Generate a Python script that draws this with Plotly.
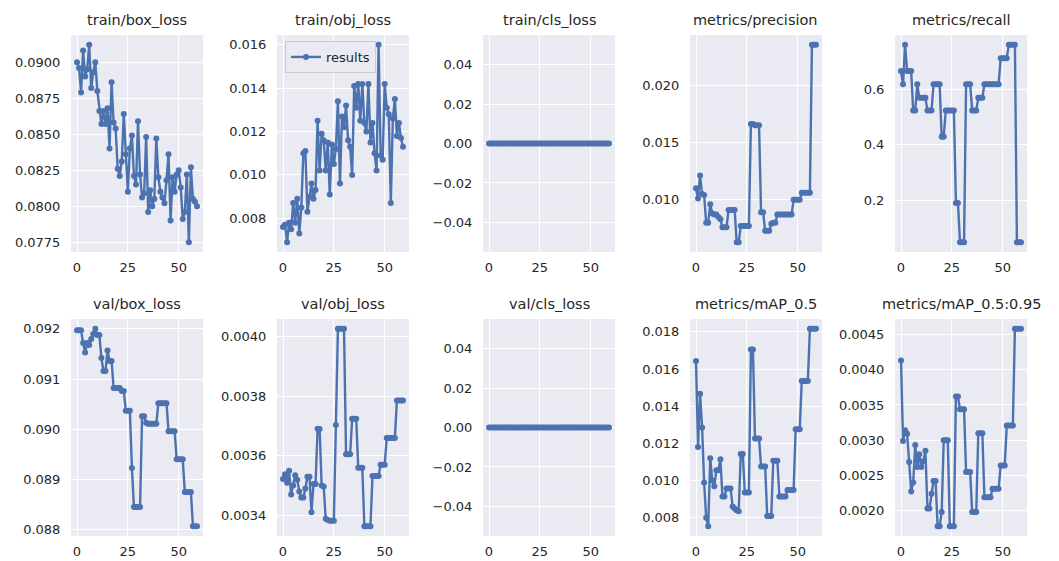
import plotly.graph_objects as go

# ---------------- data ----------------
epochs = list(range(60))

train_box_loss = [
    0.0900, 0.0896, 0.0879, 0.0908, 0.0890, 0.0895, 0.0912, 0.0882, 0.0893, 0.0900,
    0.0880, 0.0866, 0.0857, 0.0866, 0.0857, 0.0868, 0.0840, 0.0886, 0.0858, 0.0854,
    0.0826, 0.0821, 0.0831, 0.0864, 0.0836, 0.0810, 0.0840, 0.0849, 0.0821, 0.0815,
    0.0859, 0.0822, 0.0806, 0.0809, 0.0848, 0.0796, 0.0811, 0.0800, 0.0805, 0.0847,
    0.0820, 0.0810, 0.0806, 0.0802, 0.0818, 0.0836, 0.0790, 0.0820, 0.0810, 0.0822,
    0.0825, 0.0813, 0.0791, 0.0796, 0.0822, 0.0775, 0.0827, 0.0805, 0.0803, 0.0800]

train_obj_loss = [
    0.0076, 0.0077, 0.0069, 0.0078, 0.0075, 0.0087, 0.0078, 0.0089, 0.0073, 0.0085,
    0.0110, 0.0111, 0.0083, 0.0090, 0.0096, 0.0089, 0.0093, 0.0125, 0.0102, 0.0119,
    0.0116, 0.0102, 0.0115, 0.0091, 0.0114, 0.0105, 0.0112, 0.0134, 0.0096, 0.0127,
    0.0122, 0.0132, 0.0116, 0.0113, 0.0100, 0.0141, 0.0131, 0.0142, 0.0125, 0.0142,
    0.0124, 0.0120, 0.0142, 0.0115, 0.0124, 0.0110, 0.0102, 0.0160, 0.0109, 0.0107,
    0.0142, 0.0131, 0.0128, 0.0087, 0.0126, 0.0135, 0.0118, 0.0124, 0.0117, 0.0113]

train_cls_loss = [0.0] * 60

metrics_precision = [
    0.0110, 0.0101, 0.0121, 0.0105, 0.0104, 0.0080, 0.0080, 0.0096, 0.0088, 0.0087,
    0.0087, 0.0085, 0.0083, 0.0076, 0.0076, 0.0076, 0.0091, 0.0091, 0.0091, 0.0091,
    0.0063, 0.0063, 0.0077, 0.0077, 0.0077, 0.0077, 0.0077, 0.0166, 0.0166, 0.0165,
    0.0165, 0.0165, 0.0089, 0.0089, 0.0073, 0.0073, 0.0073, 0.0079, 0.0080, 0.0080,
    0.0087, 0.0087, 0.0087, 0.0087, 0.0087, 0.0087, 0.0087, 0.0087, 0.0100, 0.0100,
    0.0100, 0.0100, 0.0106, 0.0106, 0.0106, 0.0106, 0.0106, 0.0235, 0.0235, 0.0235]

metrics_recall = [
    0.667, 0.619, 0.762, 0.667, 0.667, 0.667, 0.524, 0.524, 0.619, 0.571,
    0.571, 0.571, 0.571, 0.524, 0.524, 0.524, 0.619, 0.619, 0.619, 0.619,
    0.429, 0.429, 0.524, 0.524, 0.524, 0.524, 0.524, 0.190, 0.190, 0.048,
    0.048, 0.048, 0.619, 0.619, 0.619, 0.524, 0.524, 0.524, 0.571, 0.571,
    0.571, 0.619, 0.619, 0.619, 0.619, 0.619, 0.619, 0.619, 0.619, 0.714,
    0.714, 0.714, 0.714, 0.762, 0.762, 0.762, 0.762, 0.048, 0.048, 0.048]

val_box_loss = [
    0.09197, 0.09197, 0.09197, 0.09172, 0.09153, 0.09172, 0.09168, 0.09180, 0.09190, 0.09200,
    0.09188, 0.09188, 0.09142, 0.09116, 0.09116, 0.09157, 0.09136, 0.09136, 0.09082, 0.09082,
    0.09082, 0.09082, 0.09076, 0.09076, 0.09037, 0.09037, 0.09037, 0.08923, 0.08845, 0.08845,
    0.08845, 0.08845, 0.09026, 0.09026, 0.09013, 0.09011, 0.09011, 0.09011, 0.09011, 0.09011,
    0.09052, 0.09052, 0.09052, 0.09052, 0.09052, 0.08996, 0.08996, 0.08996, 0.08996, 0.08940,
    0.08940, 0.08940, 0.08940, 0.08875, 0.08875, 0.08875, 0.08875, 0.08807, 0.08807, 0.08807]

val_obj_loss = [
    0.003522, 0.003538, 0.003510, 0.003550, 0.003470, 0.003500, 0.003535, 0.003520, 0.003480, 0.003460,
    0.003460, 0.003490, 0.003530, 0.003530, 0.003411, 0.003505, 0.003505, 0.003691, 0.003690, 0.003500,
    0.003497, 0.003389, 0.003385, 0.003382, 0.003382, 0.003382, 0.003703, 0.004026, 0.004026, 0.004026,
    0.004026, 0.003605, 0.003605, 0.003605, 0.003724, 0.003724, 0.003724, 0.003560, 0.003560, 0.003560,
    0.003364, 0.003364, 0.003364, 0.003364, 0.003532, 0.003532, 0.003532, 0.003532, 0.003570, 0.003570,
    0.003570, 0.003660, 0.003660, 0.003660, 0.003660, 0.003660, 0.003786, 0.003786, 0.003786, 0.003786]

val_cls_loss = [0.0] * 60

metrics_map50 = [
    0.01643, 0.01181, 0.01467, 0.01285, 0.00990, 0.00800, 0.00755, 0.01120, 0.01000, 0.00970,
    0.01055, 0.01055, 0.01115, 0.00915, 0.00915, 0.00958, 0.00958, 0.00958, 0.00861, 0.00850,
    0.00840, 0.00835, 0.01143, 0.01143, 0.00936, 0.00936, 0.00936, 0.01705, 0.01705, 0.01226,
    0.01226, 0.01226, 0.01076, 0.01076, 0.01076, 0.00810, 0.00810, 0.00810, 0.01107, 0.01107,
    0.01107, 0.00915, 0.00915, 0.00915, 0.00915, 0.00950, 0.00950, 0.00950, 0.00950, 0.01276,
    0.01276, 0.01276, 0.01536, 0.01536, 0.01536, 0.01536, 0.01816, 0.01816, 0.01816, 0.01816]

metrics_map50_95 = [
    0.00413, 0.00299, 0.00314, 0.00309, 0.00269, 0.00227, 0.00240, 0.00293, 0.00262, 0.00280,
    0.00262, 0.00270, 0.00285, 0.00203, 0.00203, 0.00224, 0.00242, 0.00242, 0.00178, 0.00178,
    0.00198, 0.00300, 0.00300, 0.00300, 0.00178, 0.00178, 0.00178, 0.00362, 0.00362, 0.00344,
    0.00344, 0.00344, 0.00255, 0.00255, 0.00255, 0.00198, 0.00198, 0.00198, 0.00310, 0.00310,
    0.00310, 0.00219, 0.00219, 0.00219, 0.00219, 0.00231, 0.00231, 0.00231, 0.00231, 0.00264,
    0.00264, 0.00264, 0.00321, 0.00321, 0.00321, 0.00321, 0.00458, 0.00458, 0.00458, 0.00458]

titles = ["train/box_loss", "train/obj_loss", "train/cls_loss", "metrics/precision", "metrics/recall",
          "val/box_loss", "val/obj_loss", "val/cls_loss", "metrics/mAP_0.5", "metrics/mAP_0.5:0.95"]
series = [train_box_loss, train_obj_loss, train_cls_loss, metrics_precision, metrics_recall,
          val_box_loss, val_obj_loss, val_cls_loss, metrics_map50, metrics_map50_95]
y_ticks = [
    [0.0775, 0.0800, 0.0825, 0.0850, 0.0875, 0.0900],
    [0.008, 0.010, 0.012, 0.014, 0.016],
    [-0.04, -0.02, 0.00, 0.02, 0.04],
    [0.010, 0.015, 0.020],
    [0.2, 0.4, 0.6],
    [0.088, 0.089, 0.090, 0.091, 0.092],
    [0.0034, 0.0036, 0.0038, 0.0040],
    [-0.04, -0.02, 0.00, 0.02, 0.04],
    [0.008, 0.010, 0.012, 0.014, 0.016, 0.018],
    [0.0020, 0.0025, 0.0030, 0.0035, 0.0040, 0.0045],
]
y_decimals = [4, 3, 2, 3, 1, 3, 4, 2, 3, 4]
x_ticks = [0, 25, 50]

# ---------------- layout ----------------
W, H = 1059, 561
col_left = [71, 277, 483, 690, 895]
plot_w = 132
row_top = [35, 319]
plot_h = 217
LINE = "#4C72B0"
BG = "#EAEAF2"
TXT = "#262626"
FONT = "DejaVu Sans"

fig = go.Figure()
layout = dict(
    width=W, height=H,
    margin=dict(l=0, r=0, t=0, b=0),
    paper_bgcolor="white",
    plot_bgcolor=BG,
    font=dict(family=FONT, color=TXT, size=13),
    annotations=[],
    showlegend=True,
)

xmin, xmax = min(epochs), max(epochs)
xspan = xmax - xmin
xr = [xmin - 0.05 * xspan, xmax + 0.05 * xspan]

for i, (title, vals) in enumerate(zip(titles, series)):
    r, c = divmod(i, 5)
    n = i + 1
    xa = "x" if n == 1 else f"x{n}"
    ya = "y" if n == 1 else f"y{n}"
    fig.add_trace(go.Scatter(
        x=epochs, y=vals, mode="lines+markers", name="results",
        line=dict(color=LINE, width=2.4),
        marker=dict(color=LINE, size=6),
        showlegend=(i == 1), xaxis=xa, yaxis=ya,
    ))
    x0 = col_left[c] / W
    x1 = (col_left[c] + plot_w) / W
    y1 = 1 - row_top[r] / H
    y0 = 1 - (row_top[r] + plot_h) / H
    lo, hi = min(vals), max(vals)
    if hi == lo:
        lo, hi = lo - 0.05, hi + 0.05
    span = hi - lo
    yr = [lo - 0.05 * span, hi + 0.05 * span]
    tv = y_ticks[i]
    tt = [f"{v:.{y_decimals[i]}f}".replace("-", "\u2212") for v in tv]
    axcommon = dict(showgrid=True, gridcolor="white", gridwidth=1.3, zeroline=False,
                    showline=False, ticks="outside", tickcolor="rgba(0,0,0,0)",
                    tickfont=dict(family=FONT, color=TXT, size=13))
    layout["xaxis" if n == 1 else f"xaxis{n}"] = dict(
        domain=[x0, x1], anchor=ya, range=xr, tickvals=x_ticks, ticklen=3, **axcommon)
    layout["yaxis" if n == 1 else f"yaxis{n}"] = dict(
        domain=[y0, y1], anchor=xa, range=yr, tickvals=tv, ticktext=tt, ticklen=7, **axcommon)
    layout["annotations"].append(dict(
        text=title, x=(x0 + x1) / 2, y=y1, xref="paper", yref="paper",
        xanchor="center", yanchor="bottom", yshift=5, showarrow=False,
        font=dict(family=FONT, color=TXT, size=14.5)))

layout["legend"] = dict(
    x=(col_left[1] + 8) / W, y=1 - (row_top[0] + 6) / H, xanchor="left", yanchor="top",
    bgcolor=BG, bordercolor="#CCCCCC", borderwidth=1,
    font=dict(family=FONT, color=TXT, size=13), itemwidth=30,
)

fig.update_layout(**layout)
fig.write_html(
    "out.html",
    config={"displayModeBar": False},
    post_script="document.body.style.margin='0';document.body.style.overflow='hidden';",
)
